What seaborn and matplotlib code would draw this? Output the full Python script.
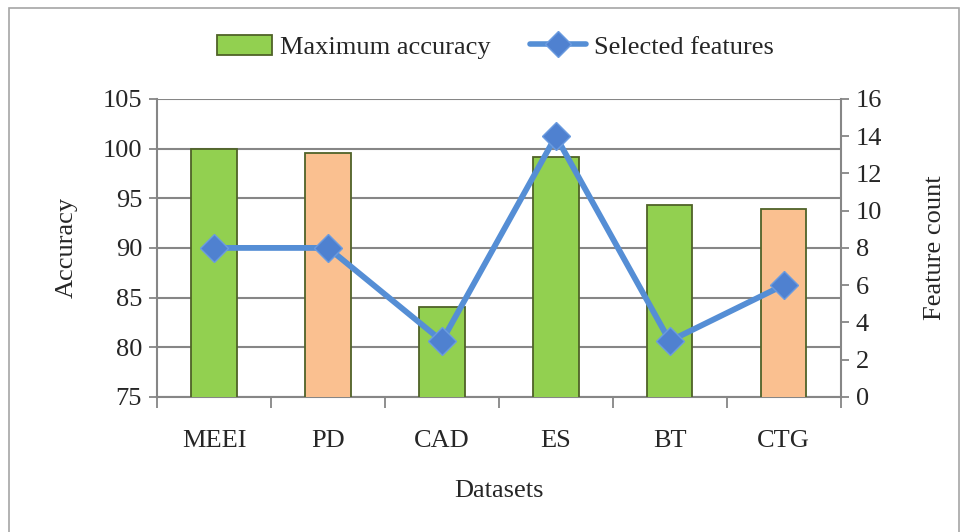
import matplotlib
matplotlib.use('Agg')
import matplotlib.pyplot as plt
import seaborn as sns
import pandas as pd
from matplotlib.patches import Patch, Rectangle
from matplotlib.lines import Line2D

datasets = ['MEEI', 'PD', 'CAD', 'ES', 'BT', 'CTG']
max_accuracy = [100.0, 99.6, 84.0, 99.2, 94.3, 93.9]
selected_features = [8, 8, 3, 14, 3, 6]
bar_colors = ['#92D050', '#FAC090', '#92D050', '#92D050', '#92D050', '#FAC090']

GREEN = '#92D050'
EDGE = '#4F6228'
LINE = '#558ED5'
GRID = '#868686'
FS = 19

sns.set_theme(style='white')
plt.rcParams['font.family'] = ['Liberation Serif', 'DejaVu Serif']

df = pd.DataFrame({'Dataset': datasets, 'Accuracy': max_accuracy,
                   'Features': selected_features})

fig = plt.figure(figsize=(9.65, 5.32), dpi=100)
ax = fig.add_axes([0.163, 0.254, 0.708, 0.560])

sns.barplot(data=df, x='Dataset', y='Accuracy', hue='Dataset',
            palette=bar_colors, saturation=1, width=0.4, edgecolor=EDGE,
            linewidth=1.3, legend=False, ax=ax, zorder=3)
ax.set_ylim(75, 105)
ax.set_yticks(range(75, 106, 5))
ax.set_xlim(-0.5, 5.5)
ax.grid(axis='y', color=GRID, linewidth=1.5, zorder=0)
ax.set_axisbelow(True)

for s in ['left', 'right', 'bottom']:
    ax.spines[s].set_color(GRID)
    ax.spines[s].set_linewidth(1.5)
ax.spines['top'].set_visible(False)

ax.tick_params(axis='x', which='major', length=0, pad=24, labelsize=FS)
ax.set_xticks([i - 0.5 for i in range(7)], minor=True)
ax.tick_params(axis='x', which='minor', length=8, width=1.3, color=GRID,
               direction='out', bottom=True)
ax.tick_params(axis='y', length=6, width=1.3, color=GRID, direction='out',
               left=True, labelsize=FS, pad=5)
ax.set_xlabel('Datasets', fontsize=FS, labelpad=20)
ax.set_ylabel('Accuracy', fontsize=FS, labelpad=18)

ax2 = ax.twinx()
sns.lineplot(data=df, x='Dataset', y='Features', ax=ax2, color=LINE,
             linewidth=4.2, marker='D', markersize=14,
             markerfacecolor='#4F81D0', markeredgecolor='#6A9BE0',
             markeredgewidth=1, sort=False, zorder=5)
ax2.set_ylim(0, 16)
ax2.set_yticks(range(0, 17, 2))
ax2.grid(False)
for s in ['left', 'right', 'bottom', 'top']:
    ax2.spines[s].set_visible(False)
ax2.tick_params(axis='y', length=6, width=1.3, color=GRID, direction='out',
                right=True, labelsize=FS, pad=5)
ax2.set_ylabel('Feature count', fontsize=FS, labelpad=30)
ax2.set_xlabel('')

handles = [Patch(facecolor=GREEN, edgecolor=EDGE, linewidth=1.3),
           Line2D([0], [0], color=LINE, linewidth=4, marker='D',
                  markersize=13, markerfacecolor='#4F81D0',
                  markeredgecolor='#6A9BE0')]
fig.legend(handles, ['Maximum accuracy', 'Selected features'],
           loc='center', bbox_to_anchor=(0.513, 0.912), ncol=2, frameon=False,
           fontsize=FS, handlelength=2.1, handleheight=0.8, handletextpad=0.3,
           columnspacing=1.5)

fig.patches.append(Rectangle((0.009, -0.01), 0.985, 0.995,
                             transform=fig.transFigure, fill=False,
                             edgecolor='#A6A6A6', linewidth=1.2))

plt.savefig('out.png', dpi=100)
plt.close()
